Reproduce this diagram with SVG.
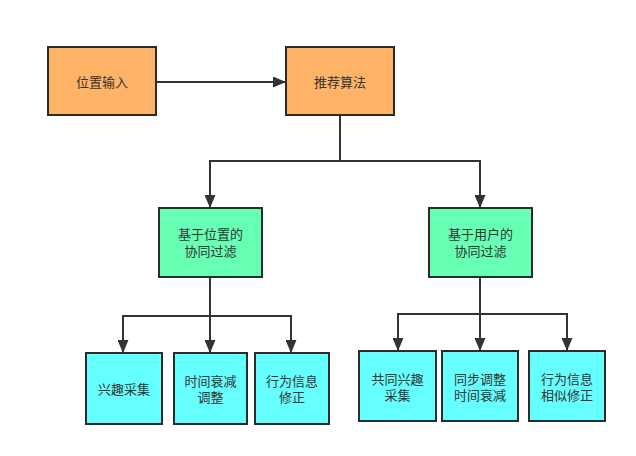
<svg xmlns="http://www.w3.org/2000/svg" width="636" height="456" viewBox="0 0 636 456">
<defs>
<marker id="arr" markerWidth="13" markerHeight="11" refX="12" refY="5.5" orient="auto" markerUnits="userSpaceOnUse">
<path d="M0,0 L13,5.5 L0,11 Z" fill="#333"/>
</marker>
<style>
.box{stroke:#2b2b2b;stroke-width:2}
.o{fill:#FFB366}
.g{fill:#66FFB3}
.c{fill:#66FFFF}
.t{font-family:"Liberation Sans","Noto Sans CJK SC",sans-serif;font-size:13px;fill:#333;text-anchor:middle}
.ln{fill:none;stroke:#333;stroke-width:2}
</style>
</defs>
<rect width="636" height="456" fill="#fff"/>
<g id="connectors">
<path class="ln" d="M156,82 H285" marker-end="url(#arr)"/>
<path class="ln" d="M340,115 V161 H210 V207" marker-end="url(#arr)"/>
<path class="ln" d="M340,161 H480 V207" marker-end="url(#arr)"/>
<path class="ln" d="M210,277 V316 H123 V352" marker-end="url(#arr)"/>
<path class="ln" d="M210,316 V352" marker-end="url(#arr)"/>
<path class="ln" d="M210,316 H291 V352" marker-end="url(#arr)"/>
<path class="ln" d="M480,277 V314 H398 V350" marker-end="url(#arr)"/>
<path class="ln" d="M480,314 V350" marker-end="url(#arr)"/>
<path class="ln" d="M480,314 H567 V350" marker-end="url(#arr)"/>
</g>
<g id="n1"><rect class="box o" x="48" y="47" width="108" height="68"/><text class="t" x="102" y="87">位置输入</text></g>
<g id="n2"><rect class="box o" x="286" y="47" width="108" height="68"/><text class="t" x="340" y="87">推荐算法</text></g>
<g id="n3"><rect class="box g" x="159" y="208" width="103" height="69"/><text class="t" x="210.5" y="239">基于位置的</text><text class="t" x="210.5" y="256">协同过滤</text></g>
<g id="n4"><rect class="box g" x="429" y="208" width="103" height="69"/><text class="t" x="480.5" y="239">基于用户的</text><text class="t" x="480.5" y="256">协同过滤</text></g>
<g id="n5"><rect class="box c" x="86" y="353" width="76" height="71"/><text class="t" x="124" y="394">兴趣采集</text></g>
<g id="n6"><rect class="box c" x="174" y="353" width="73" height="71"/><text class="t" x="210.5" y="386">时间衰减</text><text class="t" x="210.5" y="402">调整</text></g>
<g id="n7"><rect class="box c" x="255" y="353" width="74" height="71"/><text class="t" x="292" y="386">行为信息</text><text class="t" x="292" y="402">修正</text></g>
<g id="n8"><rect class="box c" x="359" y="351" width="77" height="70"/><text class="t" x="397.5" y="384">共同兴趣</text><text class="t" x="397.5" y="400">采集</text></g>
<g id="n9"><rect class="box c" x="442" y="351" width="76" height="70"/><text class="t" x="480" y="384">同步调整</text><text class="t" x="480" y="400">时间衰减</text></g>
<g id="n10"><rect class="box c" x="529" y="351" width="76" height="70"/><text class="t" x="567" y="384">行为信息</text><text class="t" x="567" y="400">相似修正</text></g>
</svg>
